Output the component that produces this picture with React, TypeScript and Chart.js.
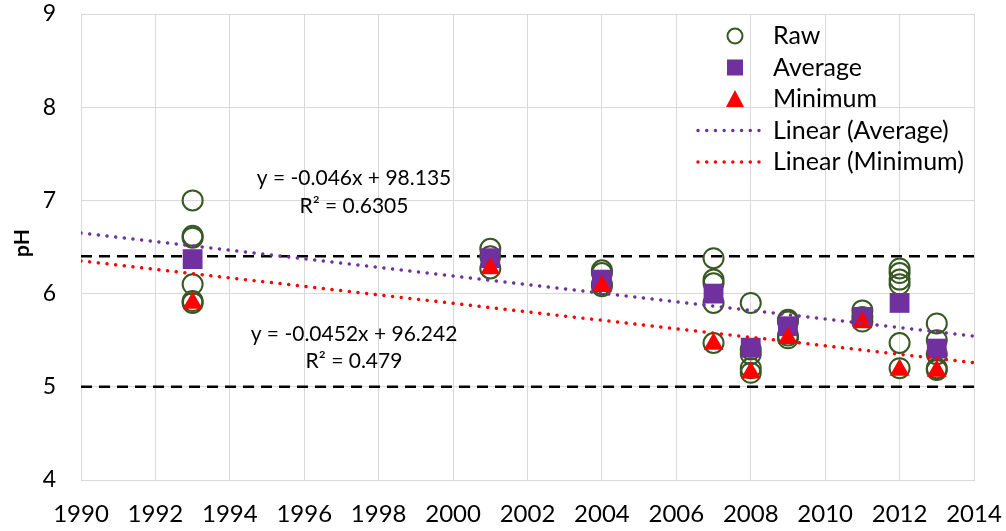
import React, { useEffect, useRef } from "react";
import { Chart, registerables } from "chart.js";

Chart.register(...registerables);

const YEARS = [1993, 2001, 2004, 2007, 2008, 2009, 2011, 2012, 2013];
const RAW = [
  [7.0, 6.6, 6.62, 6.1, 5.9, 5.92],
  [6.48, 6.4, 6.27],
  [6.25, 6.22, 6.1, 6.08],
  [6.38, 6.15, 6.11, 5.9, 5.47],
  [5.9, 5.4, 5.35, 5.2, 5.15],
  [5.72, 5.7, 5.55, 5.52],
  [5.82, 5.75, 5.7],
  [6.27, 6.22, 6.15, 6.1, 5.47, 5.2],
  [5.68, 5.5, 5.35, 5.2, 5.18],
];
const AVERAGE = [6.37, 6.38, 6.15, 6.0, 5.42, 5.65, 5.75, 5.9, 5.41];
const MINIMUM = [5.9, 6.27, 6.08, 5.46, 5.15, 5.52, 5.69, 5.18, 5.17];
const X_RANGE = [1990, 2014];
const Y_RANGE = [4, 9];
const REFERENCE_LEVELS = [6.4, 5.0];
const AVG_EQUATION = ["y = -0.046x + 98.135", "R² = 0.6305"];
const MIN_EQUATION = ["y = -0.0452x + 96.242", "R² = 0.479"];
const LEGEND_LABELS = ["Raw", "Average", "Minimum", "Linear (Average)", "Linear (Minimum)"];
const Y_TITLE = "pH";

const GREEN = "#385723";
const PURPLE = "#7030A0";
const RED = "#FF0000";
const GRID = "#D9D9D9";
const FONT = "Lato, 'Open Sans', sans-serif";

function fit(xs: number[], ys: number[]) {
  const n = xs.length;
  const mx = xs.reduce((a, b) => a + b, 0) / n;
  const my = ys.reduce((a, b) => a + b, 0) / n;
  let sxy = 0;
  let sxx = 0;
  for (let i = 0; i < n; i++) {
    sxy += (xs[i] - mx) * (ys[i] - my);
    sxx += (xs[i] - mx) * (xs[i] - mx);
  }
  const m = sxy / sxx;
  return (x: number) => my + m * (x - mx);
}

function zeroPad(s: any) {
  s.paddingTop = 0;
  s.paddingBottom = 0;
  s.paddingLeft = 0;
  s.paddingRight = 0;
}

const overlayPlugin = {
  id: "overlay",
  afterDraw(chart: any) {
    const ctx = chart.ctx;
    ctx.save();
    ctx.font = `bold 21px ${FONT}`;
    ctx.fillStyle = "#000";
    ctx.textAlign = "center";
    ctx.textBaseline = "middle";
    ctx.translate(22, 243);
    ctx.rotate(-Math.PI / 2);
    ctx.fillText(Y_TITLE, 0, 0);
    ctx.restore();

    ctx.save();
    ctx.font = `21px ${FONT}`;
    ctx.fillStyle = "#000";
    ctx.textAlign = "center";
    ctx.textBaseline = "middle";
    ctx.fillText(AVG_EQUATION[0], 354, 178);
    ctx.fillText(AVG_EQUATION[1], 354, 206);
    ctx.fillText(MIN_EQUATION[0], 354, 334);
    ctx.fillText(MIN_EQUATION[1], 354, 361);
    ctx.restore();

    ctx.save();
    const cx = 735;
    const rows = LEGEND_LABELS.map((_, i) => 36 + i * 31.5);
    ctx.strokeStyle = GREEN;
    ctx.lineWidth = 2;
    ctx.beginPath();
    ctx.arc(cx, rows[0], 7.5, 0, Math.PI * 2);
    ctx.stroke();
    ctx.fillStyle = PURPLE;
    ctx.fillRect(cx - 8, rows[1] - 8, 16, 16);
    ctx.fillStyle = RED;
    ctx.beginPath();
    ctx.moveTo(cx, rows[2] - 9);
    ctx.lineTo(cx + 9, rows[2] + 8);
    ctx.lineTo(cx - 9, rows[2] + 8);
    ctx.closePath();
    ctx.fill();
    [PURPLE, RED].forEach((c, k) => {
      ctx.strokeStyle = c;
      ctx.lineWidth = 3.5;
      ctx.lineCap = "round";
      ctx.setLineDash([0.01, 8.7]);
      ctx.beginPath();
      ctx.moveTo(698, rows[3 + k]);
      ctx.lineTo(760, rows[3 + k]);
      ctx.stroke();
    });
    ctx.setLineDash([]);
    ctx.font = `25px ${FONT}`;
    ctx.fillStyle = "#000";
    ctx.textAlign = "left";
    ctx.textBaseline = "middle";
    LEGEND_LABELS.forEach((t, i) => ctx.fillText(t, 773, rows[i]));
    ctx.restore();
  },
};

export default function App() {
  const ref = useRef<HTMLCanvasElement>(null);
  useEffect(() => {
    const avgFit = fit(YEARS, AVERAGE);
    const minFit = fit(YEARS, MINIMUM);
    const rawPoints: { x: number; y: number }[] = [];
    YEARS.forEach((yr, i) => RAW[i].forEach((v) => rawPoints.push({ x: yr, y: v })));
    const refSets = REFERENCE_LEVELS.map((lvl) => ({
      type: "line" as const,
      data: X_RANGE.map((x) => ({ x, y: lvl })),
      borderColor: "#000",
      borderWidth: 2.5,
      borderDash: [11, 7],
      pointRadius: 0,
      fill: false,
      order: 6,
    }));
    const chart = new Chart(ref.current!, {
      type: "scatter",
      data: {
        datasets: [
          ...refSets,
          {
            label: "Raw",
            data: rawPoints,
            pointStyle: "circle",
            pointRadius: 10,
            pointBorderWidth: 2,
            borderColor: GREEN,
            backgroundColor: "rgba(0,0,0,0)",
            order: 5,
          } as any,
          {
            label: "Average",
            data: YEARS.map((x, i) => ({ x, y: AVERAGE[i] })),
            pointStyle: "rect",
            pointRadius: 14,
            pointBorderWidth: 0,
            borderColor: PURPLE,
            backgroundColor: PURPLE,
            order: 4,
          },
          {
            label: "Minimum",
            data: YEARS.map((x, i) => ({ x, y: MINIMUM[i] })),
            pointStyle: "triangle",
            pointRadius: 11.5,
            pointBorderWidth: 0,
            borderColor: RED,
            backgroundColor: RED,
            order: 3,
          },
          {
            type: "line",
            label: "Linear (Average)",
            data: X_RANGE.map((x) => ({ x, y: avgFit(x) })),
            borderColor: PURPLE,
            borderWidth: 3.5,
            borderDash: [0.01, 8.7],
            borderCapStyle: "round",
            pointRadius: 0,
            fill: false,
            order: 2,
          } as any,
          {
            type: "line",
            label: "Linear (Minimum)",
            data: X_RANGE.map((x) => ({ x, y: minFit(x) })),
            borderColor: RED,
            borderWidth: 3.5,
            borderDash: [0.01, 8.7],
            borderCapStyle: "round",
            pointRadius: 0,
            fill: false,
            order: 1,
          } as any,
        ],
      },
      options: {
        animation: false,
        responsive: false,
        devicePixelRatio: 1,
        layout: { padding: { top: 13, right: 32, left: 0, bottom: 0 } },
        plugins: { legend: { display: false }, tooltip: { enabled: false } },
        scales: {
          x: {
            type: "linear",
            min: X_RANGE[0],
            max: X_RANGE[1],
            ticks: {
              stepSize: 2,
              padding: 20,
              color: "#000",
              font: { family: FONT, size: 24 },
              callback: (v: any) => String(v),
              maxRotation: 0,
            },
            grid: { color: GRID, lineWidth: 1, drawTicks: false },
            border: { display: true, color: GRID, width: 1 },
            afterFit: (s: any) => {
              s.height = 51;
              zeroPad(s);
            },
          },
          y: {
            type: "linear",
            min: Y_RANGE[0],
            max: Y_RANGE[1],
            ticks: {
              stepSize: 1,
              padding: 25,
              color: "#000",
              font: { family: FONT, size: 23 },
            },
            grid: { color: GRID, lineWidth: 1, drawTicks: false },
            border: { display: true, color: GRID, width: 1 },
            afterFit: (s: any) => {
              s.width = 81;
              zeroPad(s);
            },
          },
        },
      },
      plugins: [overlayPlugin],
    } as any);
    return () => chart.destroy();
  }, []);
  return (
    <div style={{ position: "absolute", left: 0, top: 0, width: 1006, height: 531, background: "#fff" }}>
      <canvas ref={ref} width={1006} height={531} />
    </div>
  );
}
